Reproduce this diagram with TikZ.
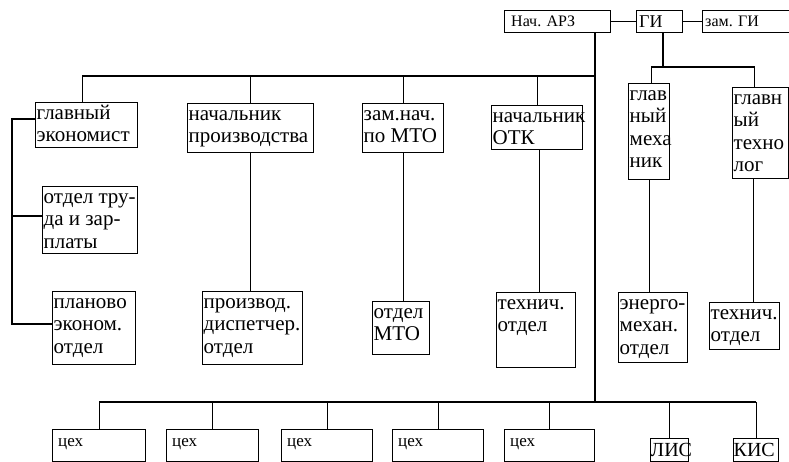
\documentclass[tikz,border=0pt]{standalone}
\usepackage{fontspec}
\setmainfont{Liberation Serif}
\begin{document}
\begin{tikzpicture}[x=1pt,y=-1pt,
  bx/.style={draw, line width=1.1pt, anchor=north west, inner sep=0pt},
  lbl/.style={anchor=north west, inner sep=1.5pt, align=left, font=\fontsize{21}{22.5}\selectfont},
  toplbl/.style={anchor=west, inner sep=0pt, xshift=3pt, font=\fontsize{16}{18}\selectfont},
  cexl/.style={anchor=north west, inner sep=0pt, xshift=6pt, yshift=-5pt, text height=12pt, text depth=3pt, font=\fontsize{17}{19}\selectfont},
  lisl/.style={anchor=north west, inner sep=0pt, xshift=0.5pt, yshift=-2pt, text height=16pt, text depth=2pt, font=\fontsize{20}{22}\selectfont},
  ln/.style={line width=1.1pt}]
\clip (0,0) rectangle (789,462);
% top row
\node[bx, minimum width=106, minimum height=22, label={[toplbl,xshift=4pt]west:Нач. АРЗ}] (arz) at (504,10) {};
\node[bx, minimum width=46, minimum height=22, label={[toplbl,font=\fontsize{18}{20}\selectfont]west:ГИ}] (gi) at (636,10) {};
\node[bx, minimum width=95, minimum height=22, label={[toplbl]west:зам. ГИ}] (zg) at (702,10) {};
% second row
\node[bx, minimum width=102, minimum height=45, label={[lbl]north west:{\strut главный\\экономист}}] (ge) at (35,102) {};
\node[bx, minimum width=126, minimum height=49, label={[lbl]north west:{\strut начальник\\производства}}] (np) at (187,103) {};
\node[bx, minimum width=81, minimum height=49, label={[lbl]north west:{\strut зам.нач.\\по МТО}}] (zm) at (362,103) {};
\node[bx, minimum width=91, minimum height=44, label={[lbl]north west:{\strut начальник\\ОТК}}] (otk) at (491,105) {};
\node[bx, minimum width=41, minimum height=96, label={[lbl]north west:{\strut глав\\ный\\меха\\ник}}] (gm) at (628,83) {};
\node[bx, minimum width=56, minimum height=91, label={[lbl]north west:{\strut главн\\ый\\техно\\лог}}] (gt) at (732,87) {};
% departments
\node[bx, minimum width=95, minimum height=67, label={[lbl]north west:{\strut отдел тру-\\да и зар-\\платы}}] (otr) at (42,186) {};
\node[bx, minimum width=83, minimum height=73, label={[lbl]north west:{\strut планово\\эконом.\\отдел}}] (plan) at (52,291) {};
\node[bx, minimum width=100, minimum height=73, label={[lbl]north west:{\strut производ.\\диспетчер.\\отдел}}] (prod) at (202,291) {};
\node[bx, minimum width=57, minimum height=53, label={[lbl]north west:{\strut отдел\\МТО}}] (mto) at (372,301) {};
\node[bx, minimum width=79, minimum height=75, label={[lbl]north west:{\strut технич.\\отдел}}] (t1) at (496,292) {};
\node[bx, minimum width=69, minimum height=70, label={[lbl]north west:{\strut энерго-\\механ.\\отдел}}] (en) at (618,292) {};
\node[bx, minimum width=70, minimum height=47, label={[lbl]north west:{\strut технич.\\отдел}}] (t2) at (709,302) {};
% bottom row
\node[bx, minimum width=93, minimum height=32, label={[cexl]north west:цех}] (c1) at (52,429) {};
\node[bx, minimum width=92, minimum height=32, label={[cexl]north west:цех}] (c2) at (166,429) {};
\node[bx, minimum width=91, minimum height=32, label={[cexl]north west:цех}] (c3) at (281,429) {};
\node[bx, minimum width=91, minimum height=32, label={[cexl]north west:цех}] (c4) at (392,429) {};
\node[bx, minimum width=90, minimum height=32, label={[cexl]north west:цех}] (c5) at (504,429) {};
\node[bx, minimum width=38, minimum height=23, label={[lisl]north west:ЛИС}] (lis) at (650,438) {};
\node[bx, minimum width=45, minimum height=23, label={[lisl]north west:КИС}] (kis) at (733,438) {};
% helper coordinates
\coordinate (tr) at (595,76);
\coordinate (trb) at (595,402);
\coordinate (gb) at (663,67);
\coordinate (lv) at (12,119);
\coordinate (lvm) at (12,216);
\coordinate (lvb) at (12,324);
% connectors
\draw[ln] (arz.east) -- (gi.west);
\draw[ln] (gi.east) -- (zg.west);
\draw[ln] (arz.south -| tr) -- (trb);
\draw[ln] ([xshift=-4pt]ge.north) |- (tr);
\foreach \n in {np,zm,otk} \draw[ln] (\n.north) -- (\n.north |- tr);
\draw[ln] (gi.south -| gb) -- (gb);
\draw[ln] ([xshift=2pt]gm.north) |- (gb) -| ([xshift=-6pt]gt.north);
\draw[ln] (gm.south) -- (gm.south |- en.north);
\draw[ln] ([xshift=-7pt]gt.south) -- ([xshift=-7pt]gt.south |- t2.north);
\draw[ln] (np.south) -- (np.south |- prod.north);
\draw[ln] (zm.south) -- (zm.south |- mto.north);
\draw[ln] ([xshift=2pt]otk.south) -- ([xshift=2pt]otk.south |- t1.north);
\draw[ln] (ge.west |- lv) -- (lv) -- (lvb) -- (plan.west |- lvb);
\draw[ln] (lvm) -- (otr.west |- lvm);
\draw[ln] (c1.north |- trb) -- (kis.north |- trb);
\foreach \n in {c1,c2,c3,c4,c5,lis,kis} \draw[ln] (\n.north) -- (\n.north |- trb);
\end{tikzpicture}
\end{document}
